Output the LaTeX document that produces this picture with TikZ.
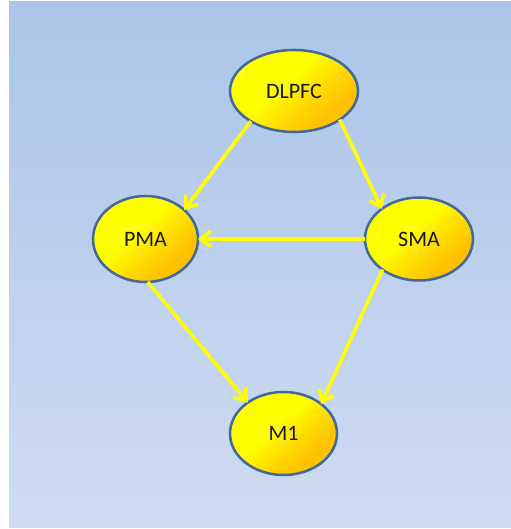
\documentclass[tikz,border=0pt]{standalone}
\usepackage{fontspec}
\setmainfont{Carlito}
\usetikzlibrary{shapes.geometric,arrows.meta}
\definecolor{bgtop}{HTML}{ABC4E9}
\definecolor{bgbot}{HTML}{CFDCF1}
\definecolor{rim}{HTML}{41699A}
\definecolor{yel}{HTML}{FFFF00}
\definecolor{org}{HTML}{FFC000}
\definecolor{link}{HTML}{FFFF00}
% yellow body that turns orange towards one side
\pgfdeclareverticalshading{lobe}{100bp}{color(0bp)=(org); color(30bp)=(org); color(42bp)=(org!60!yel); color(56bp)=(yel); color(100bp)=(yel)}
\tikzset{
  area/.style={ellipse, draw=rim, line width=1.9pt, inner sep=0pt, outer sep=0pt,
    shading=lobe, shading angle=42,
    font=\fontsize{16.5}{19}\selectfont, text=black!90},
  link/.style={draw=link, line width=2.7pt,
    -{Straight Barb[length=7.5pt, width=12pt, line width=2.7pt]}}
}
\begin{document}
\begin{tikzpicture}[x=0.75pt, y=0.75pt]
  \useasboundingbox (0,0) rectangle (511,529);
  % background panel
  \shade[top color=bgtop, bottom color=bgbot] (9,1) rectangle (511,527);
  % regions
  \node[area, minimum width=96pt, minimum height=61.5pt] (dl) at (294,438) {DLPFC};
  \node[area, minimum width=78.75pt, minimum height=64.5pt] (pma) at (145.5,290) {PMA};
  \node[area, minimum width=81pt, minimum height=62.25pt] (sma) at (419,290) {SMA};
  \node[area, minimum width=80.25pt, minimum height=62.25pt] (m1) at (283.5,95.5) {M1};
  % connections
  \draw[link] (dl.215) -- (pma.37);
  \draw[link] (dl.328) -- (sma.141);
  \draw[link] (sma.west) -- (pma.east);
  \draw[link] (pma.273) -- (m1.139);
  \draw[link] (sma.220) -- (m1.38);
\end{tikzpicture}
\end{document}
